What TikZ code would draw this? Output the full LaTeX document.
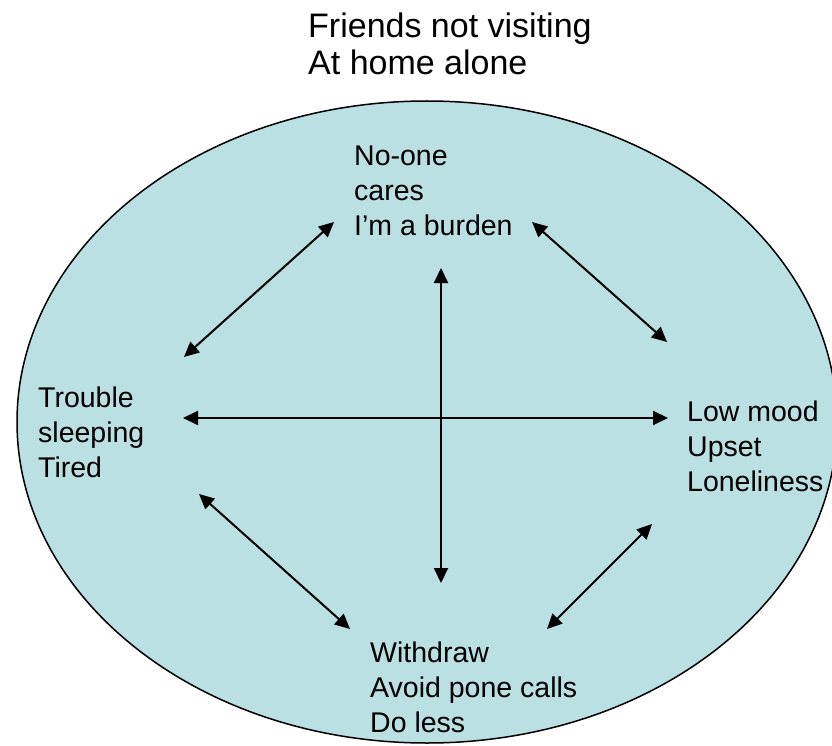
\documentclass[tikz,border=0pt]{standalone}
\usepackage{fontspec}
\setmainfont{Liberation Sans}
\usetikzlibrary{arrows.meta,positioning}
\definecolor{moodblue}{RGB}{186,224,227}
\tikzset{
  thought/.style={anchor=base west, align=left, inner sep=0pt,
    font=\fontsize{28.5}{35}\selectfont},
  headtext/.style={anchor=base west, align=left, inner sep=0pt,
    font=\fontsize{34}{37}\selectfont},
  link/.style={{Triangle[length=15pt,width=14pt]}-{Triangle[length=15pt,width=14pt]},
    line width=2pt}
}

\begin{document}
\begin{tikzpicture}[x=1pt,y=-1pt]
\useasboundingbox (0,0) rectangle (832,746);
\clip (0,0) rectangle (832,746);
% background oval
\draw[fill=moodblue, line width=1.5pt] (427,422) ellipse [x radius=410pt, y radius=321pt];

% nodes (placed by the baseline of their last line)
\node[headtext] (friends) at (308,75) {Friends not visiting\\At home alone};
\node[thought] (burden) at (354,235) {No-one\\cares\\I'm a burden};
\node[thought] (sleep) at (38,477) {Trouble\\sleeping\\Tired};
\node[thought] (mood) at (687,491) {Low mood\\Upset\\Loneliness};
\node[thought] (withdraw) at (370,732) {Withdraw\\Avoid pone calls\\Do less};

% arrow ends
\coordinate (burden-sw) at (334,222);
\coordinate (burden-se) at (532,222);
\coordinate (burden-s) at (441,268);
\coordinate (sleep-ne) at (184,357);
\coordinate (sleep-e) at (183,418);
\coordinate (sleep-se) at (199,494);
\coordinate (mood-nw) at (667,342);
\coordinate (mood-w) at (668,418);
\coordinate (mood-sw) at (652,524);
\coordinate (withdraw-nw) at (350,629);
\coordinate (withdraw-ne) at (547,629);
\coordinate (withdraw-n) at (441,583);

% edges
\draw[link] (sleep-ne) -- (burden-sw);
\draw[link] (burden-se) -- (mood-nw);
\draw[link] (sleep-se) -- (withdraw-nw);
\draw[link] (withdraw-ne) -- (mood-sw);
\draw[link] (sleep-e) -- (mood-w);
\draw[link] (burden-s) -- (withdraw-n);
\end{tikzpicture}
\end{document}
